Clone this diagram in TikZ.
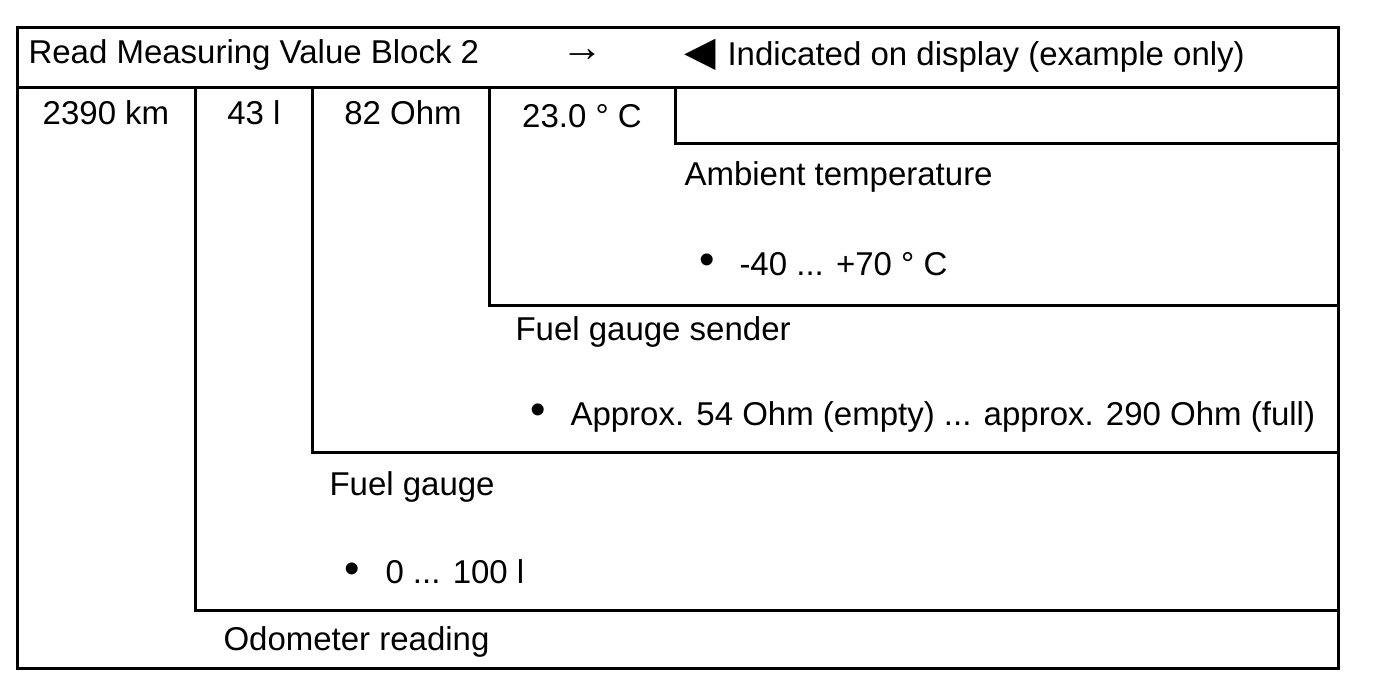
\documentclass[tikz,border=0pt]{standalone}
\usepackage{fontspec}
\setmainfont{Liberation Sans}
\newfontfamily\dejavu{DejaVu Sans}
\begin{document}
\begin{tikzpicture}[x=0.5pt,y=-0.5pt,line width=1.5pt,
  txt/.style={anchor=base west,inner sep=0pt,font=\fontsize{16.5}{20}\selectfont},
  ctxt/.style={anchor=base,inner sep=0pt,font=\fontsize{16.5}{20}\selectfont},
  bul/.style={anchor=center,inner sep=0pt,font=\fontsize{22}{24}\selectfont}]
\useasboundingbox (0,0) rectangle (1376,692);
% frame and grid
\draw (17,27) rectangle (1338,668);
\draw (17,87) -- (1338,87);
\draw (195,87) -- (195,610) -- (1338,610);
\draw (312,87) -- (312,452) -- (1338,452);
\draw (489,87) -- (489,305) -- (1338,305);
\draw (675,87) -- (675,143) -- (1338,143);
% header
\node[txt] (title) at (27,63) {Read Measuring Value Block 2};
\node[anchor=center,inner sep=0pt,font=\fontsize{21}{24}\selectfont] (arr) at (582,56) {→};
\node[anchor=center,inner sep=0pt,font=\dejavu\fontsize{20.5}{24}\selectfont] (tri) at (700,55) {◀};
\node[txt] (ind) at (726,65) {Indicated on display (example only)};
% values
\node[ctxt] (v1) at (106,124) {2390 km};
\node[ctxt] (v2) at (254,124) {43 l};
\node[ctxt] (v3) at (403,124) {82 Ohm};
\node[ctxt] (v4) at (582,127) {23.0 ° C};
% descriptions
\node[txt] (d4) at (683,185) {Ambient temperature};
\node[bul] (b4) at (707,264) {•};
\node[txt] (r4) at (738,275) {-40 ... +70 ° C};
\node[txt] (d3) at (514,340) {Fuel gauge sender};
\node[bul] (b3) at (538,414) {•};
\node[txt] (r3) at (569,425) {Approx. 54 Ohm (empty) ... approx. 290 Ohm (full)};
\node[txt] (d2) at (328,495) {Fuel gauge};
\node[bul] (b2) at (352,573) {•};
\node[txt] (r2) at (384,583) {0 ... 100 l};
\node[txt] (d1) at (222,650) {Odometer reading};
\end{tikzpicture}
\end{document}
